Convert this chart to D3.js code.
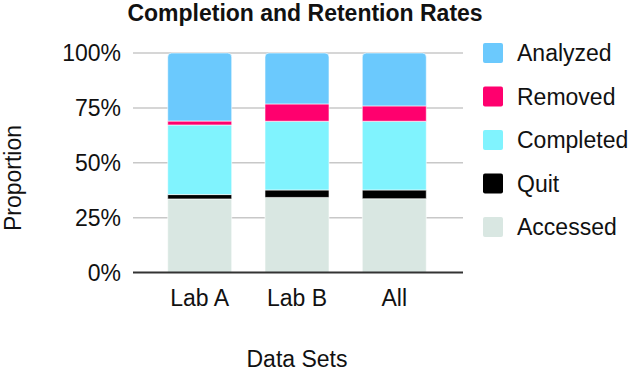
<!DOCTYPE html>
<html>
<head>
<meta charset="utf-8">
<script src="https://cdn.jsdelivr.net/npm/d3@7"></script>
<style>
  body { margin: 0; background: #fff; }
  text { font-family: "Liberation Sans", Arial, sans-serif; fill: #111; }
</style>
</head>
<body>
<svg width="632" height="373"></svg>
<script>
// data (proportions per data set)
var categories = ["Lab A", "Lab B", "All"];
var seriesNames = ["Accessed", "Quit", "Completed", "Removed", "Analyzed"];
var accessed  = [0.335, 0.342, 0.336];
var quit      = [0.020, 0.034, 0.040];
var completed = [0.317, 0.313, 0.313];
var removed   = [0.018, 0.079, 0.070];
var analyzed  = [0.310, 0.232, 0.241];
var yTicks = [0, 0.25, 0.5, 0.75, 1];

var colors = {
  "Accessed": "#d9e7e2",
  "Quit": "#000000",
  "Completed": "#80f3fe",
  "Removed": "#ff006e",
  "Analyzed": "#6bc9fd"
};

var rows = categories.map(function (c, i) {
  return { cat: c, Accessed: accessed[i], Quit: quit[i], Completed: completed[i],
           Removed: removed[i], Analyzed: analyzed[i] };
});

var svg = d3.select("svg");
var margin = { top: 53, left: 133, bottom: 100.5, right: 169 };
var width = 632, height = 373;

var x = d3.scaleBand()
  .domain(categories)
  .range([margin.left - 1, width - margin.right - 1])
  .paddingInner(0.342)
  .paddingOuter(0.367);

var y = d3.scaleLinear()
  .domain([0, 1])
  .range([height - margin.bottom, margin.top]);

// gridlines
svg.append("g")
  .selectAll("line")
  .data(yTicks.filter(function (t) { return t > 0; }))
  .join("line")
  .attr("x1", margin.left).attr("x2", width - margin.right)
  .attr("y1", function (d) { return y(d); })
  .attr("y2", function (d) { return y(d); })
  .attr("stroke", "#c8c8c8")
  .attr("stroke-width", 1.5);

// tick labels
var fmt = d3.format(".0%");
svg.append("g")
  .selectAll("text")
  .data(yTicks)
  .join("text")
  .attr("x", 121)
  .attr("y", function (d) { return y(d); })
  .attr("dy", "0.35em")
  .attr("text-anchor", "end")
  .style("font-size", "23px")
  .text(function (d) { return fmt(d); });

// stacked bars
var stack = d3.stack().keys(seriesNames);
var layers = stack(rows);

svg.append("g")
  .selectAll("g")
  .data(layers)
  .join("g")
  .attr("fill", function (d) { return colors[d.key]; })
  .selectAll("path")
  .data(function (d) { return d.map(function (p) { return { p: p, key: d.key }; }); })
  .join("path")
  .attr("d", function (d) {
    var x0 = x(d.p.data.cat), w = x.bandwidth();
    var yTop = y(d.p[1]), yBot = y(d.p[0]);
    var r = d.key === "Analyzed" ? 4 : 0;
    return "M" + x0 + "," + yBot +
      "V" + (yTop + r) +
      (r ? "Q" + x0 + "," + yTop + " " + (x0 + r) + "," + yTop : "") +
      "H" + (x0 + w - r) +
      (r ? "Q" + (x0 + w) + "," + yTop + " " + (x0 + w) + "," + (yTop + r) : "") +
      "V" + yBot + "Z";
  })
  .attr("stroke", "#ffffff")
  .attr("stroke-width", 0.6);

// baseline
svg.append("line")
  .attr("x1", margin.left).attr("x2", width - margin.right)
  .attr("y1", y(0)).attr("y2", y(0))
  .attr("stroke", "#333")
  .attr("stroke-width", 2);

// x labels
svg.append("g")
  .selectAll("text")
  .data(categories)
  .join("text")
  .attr("x", function (d) { return x(d) + x.bandwidth() / 2; })
  .attr("y", 306)
  .attr("text-anchor", "middle")
  .style("font-size", "23px")
  .text(function (d) { return d; });

// axis titles
svg.append("text")
  .attr("x", 297).attr("y", 367)
  .attr("text-anchor", "middle")
  .style("font-size", "23px")
  .text("Data Sets");

svg.append("text")
  .attr("transform", "translate(21,178) rotate(-90)")
  .attr("text-anchor", "middle")
  .style("font-size", "23px")
  .text("Proportion");

// title
svg.append("text")
  .attr("x", 305).attr("y", 21)
  .attr("text-anchor", "middle")
  .style("font-size", "23px")
  .style("font-weight", "bold")
  .text("Completion and Retention Rates");

// legend (top to bottom: reverse stack order)
var legend = svg.append("g")
  .selectAll("g")
  .data(seriesNames.slice().reverse())
  .join("g")
  .attr("transform", function (d, i) { return "translate(483," + (53 + i * 43.5) + ")"; });

legend.append("rect")
  .attr("x", 0).attr("y", -10)
  .attr("width", 20).attr("height", 20)
  .attr("rx", 2)
  .attr("fill", function (d) { return colors[d]; });

legend.append("text")
  .attr("x", 34).attr("y", 0)
  .attr("dy", "0.36em")
  .style("font-size", "23px")
  .text(function (d) { return d; });
</script>
</body>
</html>
